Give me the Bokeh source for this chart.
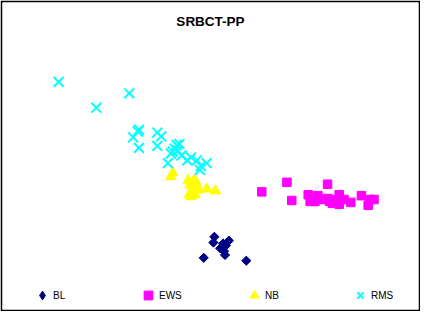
from bokeh.plotting import figure
from bokeh.models import Range1d, Label, Legend, LegendItem
from bokeh.embed import file_html
from bokeh.resources import INLINE
import math

# Projection coordinates (arbitrary units, y grows downward)
categories = ["BL", "EWS", "NB", "RMS"]

bl_x = [221, 220, 230, 236, 233, 227, 231, 232, 210, 254]
bl_y = [247, 253, 254, 251, 256, 259, 262, 266, 269, 272]

ews_x = [270, 296, 301, 338, 318, 320, 328, 332, 338, 343, 350, 350, 347, 355, 362, 373, 382, 380, 386, 325, 340]
ews_y = [200, 190, 209, 192, 203, 210, 204, 208, 207, 212, 203, 213, 208, 208, 211, 204, 208, 214, 208, 210, 210]

nb_x = [178, 176, 194, 200, 196, 199, 203, 198, 201, 195, 205, 213, 222, 198, 202, 197]
nb_y = [180, 184, 188, 188, 193, 196, 195, 200, 203, 203, 198, 197, 199, 191, 190, 205]

rms_x = [60, 99, 133, 143, 142, 137, 143, 162, 166, 162, 182, 185, 178, 183, 187, 173, 193, 197, 203, 213, 207, 206, 180, 176]
rms_y = [85, 112, 97, 135, 137, 143, 154, 138, 142, 152, 151, 150, 158, 157, 162, 170, 167, 164, 167, 170, 173, 177, 155, 160]

title_text = "SRBCT-PP"

p = figure(width=420, height=311, output_backend="svg", toolbar_location=None,
           x_range=Range1d(2, 432), y_range=Range1d(323, 2),
           min_border=2, border_fill_color="black", background_fill_color="white",
           outline_line_color=None)
p.axis.visible = False
p.grid.visible = False

# diamond glyph for the legend key, hidden under the rotated squares
r_bl_key = p.scatter(bl_x, bl_y, marker="diamond", size=8,
                     fill_color="#000080", line_color="#000080")
r_bl = p.scatter(bl_x, bl_y, marker="square", size=6.5, angle=math.pi / 4,
                 fill_color="#000080", line_color="#000080")
r_ews = p.scatter(ews_x, ews_y, marker="square", size=8.5,
                  fill_color="#FF00FF", line_color="#FF00FF")
r_nb = p.scatter(nb_x, nb_y, marker="triangle", size=10.5,
                 fill_color="#FFFF00", line_color="#FFFF00")
r_rms = p.scatter(rms_x, rms_y, marker="x", size=14, line_width=2,
                  line_color="#00FFFF")

p.add_layout(Label(x=217, y=22, text=title_text, text_align="center",
                   text_baseline="middle", text_font="Liberation Sans",
                   text_font_style="bold", text_font_size="13.5px",
                   text_color="black"))

legend = Legend(items=[LegendItem(label=c, renderers=[r])
                       for c, r in zip(categories, [r_bl_key, r_ews, r_nb, r_rms])],
                orientation="horizontal", location=(29, 3),
                glyph_width=22, glyph_height=22, label_standoff=-3,
                label_width=30, label_height=22, spacing=54,
                padding=0, margin=0, border_line_color=None,
                background_fill_alpha=0, label_text_font="Liberation Sans",
                label_text_font_size="10px", label_text_color="black")
p.add_layout(legend)

open("out.html", "w").write(file_html(p, INLINE))
